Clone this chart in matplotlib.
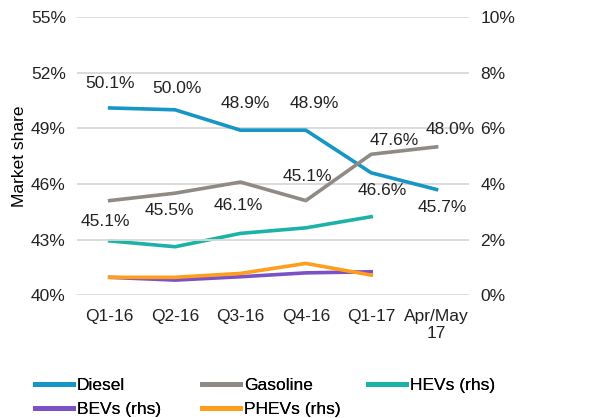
import matplotlib
matplotlib.use("Agg")
import matplotlib.pyplot as plt
from matplotlib.ticker import FuncFormatter

categories = ["Q1-16", "Q2-16", "Q3-16", "Q4-16", "Q1-17", "Apr/May\n17"]
diesel = [50.1, 50.0, 48.9, 48.9, 46.6, 45.7]
gasoline = [45.1, 45.5, 46.1, 45.1, 47.6, 48.0]
hevs = [1.95, 1.74, 2.22, 2.42, 2.82]
bevs = [0.64, 0.54, 0.66, 0.80, 0.84]
phevs = [0.64, 0.64, 0.78, 1.14, 0.72]

# label offsets in pixels (dx, dy)
diesel_off = [(0, 24), (2, 21), (5, 27), (9, 27), (11, -18), (6, -18)]
gasoline_off = [(-4, -21), (-6, -17), (-2, -23), (2, 24), (23, 14), (14, 17)]

plt.rcParams['font.family'] = ['Liberation Sans', 'DejaVu Sans']
fs = 12.5

W, H = 611, 418
fig = plt.figure(figsize=(6.11, 4.18), dpi=100)
ax = fig.add_axes([0.126, 0.294, 0.642, 0.665])
ax2 = ax.twinx()

x = list(range(len(categories)))
c_d, c_g, c_h, c_b, c_p = "#1596c6", "#8f8a84", "#1bb3a6", "#7a52c6", "#ff9d1c"
lw = 2.6

l1, = ax.plot(x, diesel, color=c_d, lw=lw, label="Diesel", zorder=3)
l2, = ax.plot(x, gasoline, color=c_g, lw=lw, label="Gasoline", zorder=3)
l3, = ax2.plot(x[:len(hevs)], hevs, color=c_h, lw=lw, label="HEVs (rhs)")
l4, = ax2.plot(x[:len(bevs)], bevs, color=c_b, lw=lw, label="BEVs (rhs)")
l5, = ax2.plot(x[:len(phevs)], phevs, color=c_p, lw=lw, label="PHEVs (rhs)")

ax.set_ylim(40, 55)
ax.set_yticks([40, 43, 46, 49, 52, 55])
ax2.set_ylim(0, 10)
ax2.set_yticks([0, 2, 4, 6, 8, 10])
ax.set_xlim(-0.5, 5.5)
ax.set_xticks(x)
ax.set_xticklabels(categories, fontsize=fs)
ax.yaxis.set_major_formatter(FuncFormatter(lambda v, p: f"{v:.0f}%"))
ax2.yaxis.set_major_formatter(FuncFormatter(lambda v, p: f"{v:.0f}%"))
for a in (ax, ax2):
    a.tick_params(length=0, labelsize=fs, colors="#222222")
    for s in a.spines.values():
        s.set_visible(False)
ax.tick_params(axis='y', pad=8)
ax.tick_params(axis='x', pad=10)
ax2.tick_params(axis='y', pad=8)
ax.grid(axis='y', color="#d9d9d9", lw=1.3)
ax.set_axisbelow(True)
ax.set_ylabel("Market share", fontsize=fs, labelpad=3)

ax.set_zorder(ax2.get_zorder() + 1)
ax.patch.set_visible(False)

for i, v in enumerate(diesel):
    dx, dy = diesel_off[i]
    ax.annotate(f"{v:.1f}%", (i, v), xytext=(dx, dy), textcoords='offset pixels',
                ha='center', va='center', fontsize=fs, color="#222222")
for i, v in enumerate(gasoline):
    dx, dy = gasoline_off[i]
    if i == 3:
        ax.annotate(f"{v:.1f}%", (i, v), xytext=(dx, dy), textcoords='offset pixels',
                    ha='center', va='center', fontsize=fs, color="#222222",
                    arrowprops=dict(arrowstyle='-', color="#a6a6a6", lw=0.8, shrinkA=8, shrinkB=2))
    else:
        ax.annotate(f"{v:.1f}%", (i, v), xytext=(dx, dy), textcoords='offset pixels',
                    ha='center', va='center', fontsize=fs, color="#222222")

groups = [([l1, l4], 35), ([l2, l5], 202), ([l3], 368)]
for handles, px in groups:
    lg = fig.legend(handles=handles, loc='upper left', bbox_to_anchor=(px / W, 1 - 378 / H),
                    frameon=False, fontsize=fs, handlelength=2.2, handletextpad=0.2,
                    labelspacing=0.5, borderpad=0, borderaxespad=0)
    for ln in lg.get_lines():
        ln.set_linewidth(3.5)
    fig.add_artist(lg)

fig.savefig("out.png", dpi=100)
